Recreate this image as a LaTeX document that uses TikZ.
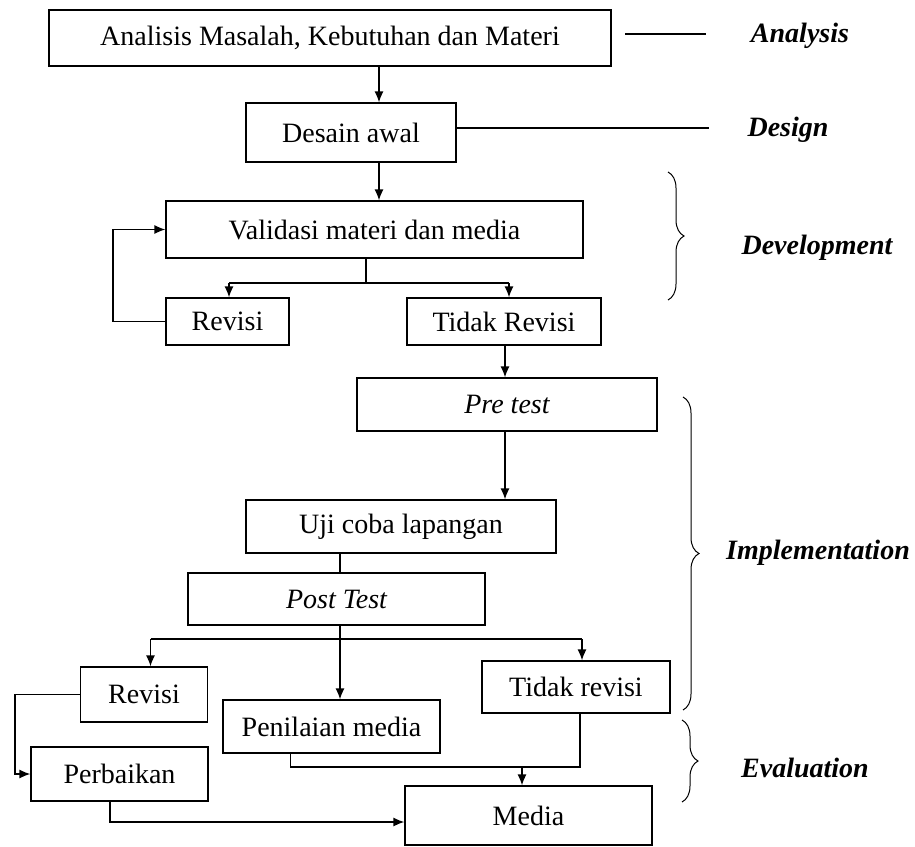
\documentclass[tikz,border=0pt]{standalone}
\usepackage{fontspec}
\setmainfont{Liberation Serif}
\usetikzlibrary{arrows.meta,decorations.pathreplacing}
\begin{document}
\begin{tikzpicture}[x=1pt,y=-1pt,
  box/.style={draw, line width=1.3pt, inner sep=0pt, font=\fontsize{28}{32}\selectfont},
  lbl/.style={font=\fontsize{28}{32}\selectfont\bfseries\itshape},
  ln/.style={line width=1.3pt},
  arr/.style={ln, -{Latex[length=11pt,width=9pt]}},
  brc/.style={line width=1pt, decorate, decoration={brace, amplitude=16pt}}]
\useasboundingbox (0,0) rectangle (915,846);

% boxes
\node[box, minimum width=562pt, minimum height=56pt] (a) at (330,38) {Analisis Masalah, Kebutuhan dan Materi};
\node[box, minimum width=210pt, minimum height=59pt] (d) at (351,132.5) {Desain awal};
\node[box, minimum width=417pt, minimum height=57pt] (v) at (374.5,229.5) {Validasi materi dan media};
\node[box, minimum width=123pt, minimum height=47pt] (r1) at (227.5,321.5) {Revisi};
\node[box, minimum width=194pt, minimum height=47pt] (tr) at (504,321.5) {Tidak Revisi};
\node[box, minimum width=300pt, minimum height=53pt] (pre) at (507,404.5) {\itshape Pre test};
\node[box, minimum width=310pt, minimum height=53pt] (uji) at (401,526.5) {Uji coba lapangan};
\node[box, minimum width=297pt, minimum height=52pt] (post) at (336.5,599) {\itshape Post Test};
\node[box, minimum width=127pt, minimum height=55pt] (r2) at (144,694.5) {Revisi};
\node[box, minimum width=217pt, minimum height=53pt] (pen) at (331.5,726.5) {Penilaian media};
\node[box, minimum width=188pt, minimum height=52pt] (tr2) at (576,687) {Tidak revisi};
\node[box, minimum width=177pt, minimum height=54pt] (perb) at (119.5,774) {Perbaikan};
\node[box, minimum width=247pt, minimum height=59pt] (media) at (528.5,815.5) {Media};

% phase labels
\node[lbl] (lA) at (800,36) {Analysis};
\node[lbl] (lD) at (788,130) {Design};
\node[lbl] (lDev) at (817,248) {Development};
\node[lbl] (lI) at (818,553) {Implementation};
\node[lbl] (lE) at (805,768) {Evaluation};

% helper coordinates
\coordinate (x379) at (379,0);
\coordinate (x366) at (366,283);
\coordinate (s1L) at (229,283);
\coordinate (s1R) at (509,283);
\coordinate (lp) at (113,0);
\coordinate (x505) at (505,0);
\coordinate (x340) at (340,639);
\coordinate (s2L) at (150.5,639);
\coordinate (s2R) at (582,639);
\coordinate (lx) at (15,0);
\coordinate (x110) at (110,822);
\coordinate (m1) at (290.5,767);
\coordinate (m2) at (580,767);
\coordinate (m3) at (522,767);
\coordinate (al1) at (625,34);
\coordinate (al2) at (706,34);
\coordinate (dl) at (709,128);

% connectors
\draw[ln] (al1) -- (al2);
\draw[ln] (d.east |- dl) -- (dl);
\draw[arr] (a.south -| x379) -- (d.north -| x379);
\draw[arr] (d.south -| x379) -- (v.north -| x379);
\draw[ln] (v.south -| x366) -- (x366);
\draw[ln] (s1L) -- (s1R);
\draw[arr] (s1L) -- (r1.north -| s1L);
\draw[arr] (s1R) -- (tr.north -| s1R);
\draw[arr] (r1.west) -- (r1.west -| lp) |- (v.west);
\draw[arr] (tr.south -| x505) -- (pre.north -| x505);
\draw[arr] (pre.south -| x505) -- (uji.north -| x505);
\draw[ln] (uji.south -| x340) -- (post.north -| x340);
\draw[arr] (post.south -| x340) -- (pen.north -| x340);
\draw[ln] (s2L) -- (s2R);
\draw[arr] (s2L) -- (r2.north -| s2L);
\draw[arr] (s2R) -- (tr2.north -| s2R);
\draw[arr] (r2.west) -- (r2.west -| lx) |- (perb.west);
\draw[arr] (perb.south -| x110) -- (x110) -- (x110 -| media.west);
\draw[ln] (pen.south -| m1) -- (m1) -- (m2) -- (tr2.south -| m2);
\draw[arr] (m3) -- (media.north -| m3);

% braces
\draw[brc] (668,172) -- (668,300);
\draw[brc] (683,397) -- (683,710);
\draw[brc] (682,720) -- (682,802);
\end{tikzpicture}
\end{document}
